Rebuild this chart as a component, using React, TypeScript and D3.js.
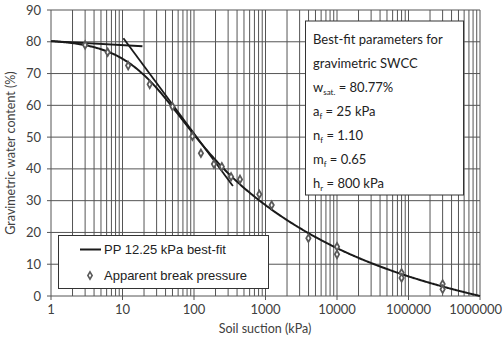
import React from "react";
import * as d3 from "d3";

// Measured gravimetric water content (%) at each applied soil suction (kPa)
const suction = [3, 6.2, 12, 24, 50, 95, 125, 190, 245, 330, 440, 820, 1220, 3980, 10000, 10000, 80000, 80000, 300000, 300000];
const waterContent = [79.0, 76.7, 72.5, 66.6, 59.6, 50.3, 44.9, 41.5, 40.7, 37.5, 36.7, 32.0, 28.6, 18.2, 15.5, 13.1, 7.3, 5.7, 3.8, 2.1];

// Fredlund & Xing best-fit parameters
const wSat = 80.77;
const aF = 25;
const nF = 1.1;
const mF = 0.65;
const hR = 800;
const psiMax = 1e6;

// Tangent construction used for the apparent break pressure
const flatTangentX = [1, 19];
const flatTangentY = [80.2, 78.6];
const steepTangentX = [10.3, 350];
const steepTangentY = [81.1, 34.6];

const xTicks = [1, 10, 100, 1000, 10000, 100000, 1000000];
const yTicks = [0, 10, 20, 30, 40, 50, 60, 70, 80, 90];

const paramLines: { main: string; sub?: string; rest?: string }[] = [
  { main: "Best-fit parameters for" },
  { main: "gravimetric SWCC" },
  { main: "w", sub: "sat.", rest: " = 80.77%" },
  { main: "a", sub: "f", rest: " = 25 kPa" },
  { main: "n", sub: "f", rest: " = 1.10" },
  { main: "m", sub: "f", rest: " = 0.65" },
  { main: "h", sub: "r", rest: " = 800 kPa" },
];

const W = 503;
const H = 341;
const left = 51;
const right = 480;
const top = 10;
const bottom = 296;

const fx = (psi: number) => {
  const c = 1 - Math.log(1 + psi / hR) / Math.log(1 + psiMax / hR);
  return (c * wSat) / Math.pow(Math.log(Math.E + Math.pow(psi / aF, nF)), mF);
};

export default function App() {
  const x = d3.scaleLog().domain([1, 1e6]).range([left, right]);
  const y = d3.scaleLinear().domain([0, 90]).range([bottom, top]);

  const minor: number[] = [];
  for (let e = 0; e < 6; e++) {
    for (let k = 1; k <= 9; k++) minor.push(k * Math.pow(10, e));
  }
  minor.push(1e6);

  const curvePts: [number, number][] = d3
    .range(0, 6.0001, 0.02)
    .map((l) => Math.pow(10, l))
    .map((p) => [p, fx(p)]);
  const line = d3
    .line<[number, number]>()
    .x((d) => x(d[0]))
    .y((d) => y(d[1]))
    .curve(d3.curveMonotoneX);

  const marker = d3.symbol().type(d3.symbolDiamond).size(16)();

  const font = "Lato, 'Liberation Sans', sans-serif";
  const grid = "#555";

  return (
    <svg width={W} height={H} style={{ position: "absolute", left: 0, top: 0 }}>
      <rect width={W} height={H} fill="#fff" />
      {/* grid */}
      {minor.map((v, i) => (
        <line key={"v" + i} x1={x(v)} x2={x(v)} y1={top} y2={bottom} stroke={grid} strokeWidth={1} />
      ))}
      {yTicks.map((v) => (
        <line key={"h" + v} x1={left - 4} x2={right} y1={y(v)} y2={y(v)} stroke={grid} strokeWidth={1} />
      ))}
      {xTicks.map((v) => (
        <line key={"xt" + v} x1={x(v)} x2={x(v)} y1={bottom} y2={bottom + 4} stroke={grid} strokeWidth={1} />
      ))}
      {/* tick labels */}
      {yTicks.map((v) => (
        <text key={"yl" + v} x={41} y={y(v)} dy="0.35em" textAnchor="end" fontFamily={font} fontSize={13} fill="#404040">
          {v}
        </text>
      ))}
      {xTicks.map((v, i) => (
        <text
          key={"xl" + v}
          x={i === xTicks.length - 1 ? W - 1 : x(v)}
          y={bottom + 18}
          textAnchor={i === xTicks.length - 1 ? "end" : "middle"}
          fontFamily={font}
          fontSize={13}
          fill="#404040"
        >
          {v}
        </text>
      ))}
      <text x={265} y={333} textAnchor="middle" fontFamily={font} fontSize={12.5} fill="#404040">
        Soil suction (kPa)
      </text>
      <text
        transform={`translate(15,${(top + bottom) / 2}) rotate(-90)`}
        textAnchor="middle"
        fontFamily={font}
        fontSize={12.5}
        fill="#404040"
      >
        Gravimetric water content (%)
      </text>

      {/* tangents */}
      <line x1={x(flatTangentX[0])} y1={y(flatTangentY[0])} x2={x(flatTangentX[1])} y2={y(flatTangentY[1])} stroke="#1a1a1a" strokeWidth={1.8} />
      <line x1={x(steepTangentX[0])} y1={y(steepTangentY[0])} x2={x(steepTangentX[1])} y2={y(steepTangentY[1])} stroke="#1a1a1a" strokeWidth={1.8} />

      {/* fitted curve */}
      <path d={line(curvePts) || ""} fill="none" stroke="#1a1a1a" strokeWidth={2} />

      {/* measurements */}
      {suction.map((s, i) => (
        <path
          key={"p" + i}
          d={marker || ""}
          transform={`translate(${x(s)},${y(waterContent[i])})`}
          fill="#fff"
          stroke="#5a5a5a"
          strokeWidth={1.8}
        />
      ))}

      {/* legend */}
      <rect x={58.5} y={235.5} width={210} height={53} fill="#fff" stroke="#333" strokeWidth={1} />
      <line x1={80} x2={101} y1={249.5} y2={249.5} stroke="#1a1a1a" strokeWidth={2} />
      <text x={104} y={254} fontFamily="'Liberation Sans', Arial, sans-serif" fontSize={13} fill="#222">
        PP 12.25 kPa best-fit
      </text>
      <path d={marker || ""} transform="translate(90,275.5)" fill="#fff" stroke="#5a5a5a" strokeWidth={1.6} />
      <text x={104} y={280} fontFamily="'Liberation Sans', Arial, sans-serif" fontSize={13} fill="#222">
        Apparent break pressure
      </text>

      {/* parameter box */}
      <rect x={305.5} y={21} width={158} height={174} fill="#fff" stroke="#333" strokeWidth={1} />
      {paramLines.map((p, i) => (
        <text key={"pl" + i} x={313} y={39 + i * 24.0} dy="0.35em" fontFamily={font} fontSize={13} fill="#222">
          {p.main}
          {p.sub && (
            <tspan fontSize={8} dy="3">
              {p.sub}
            </tspan>
          )}
          {p.rest && <tspan dy={p.sub ? "-3" : "0"}>{p.rest}</tspan>}
        </text>
      ))}
    </svg>
  );
}
